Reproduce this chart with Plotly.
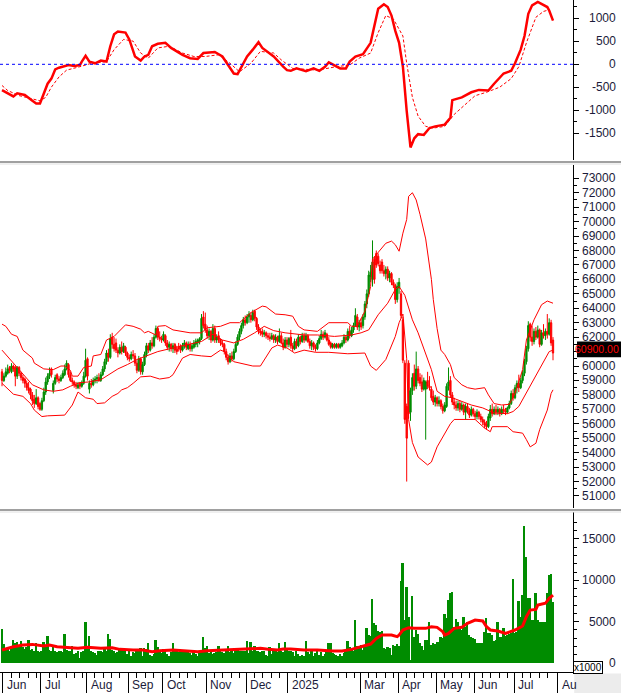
import plotly.graph_objects as go

# ---------------- data (prices in thousand VND, volume in x1000 shares) ----------------
opens = [
    59.6, 59.0, 59.3, 59.5, 59.9, 59.6, 60.0, 59.9, 59.3, 59.9,
    59.5, 59.2, 59.1, 58.8, 58.5, 58.4, 58.0, 57.7, 57.4, 57.8,
    57.4, 57.0, 57.6, 58.2, 58.9, 59.3, 59.8, 58.3, 58.8, 59.4,
    59.1, 59.0, 59.2, 59.4, 59.8, 60.1, 59.4, 59.0, 58.9, 58.7,
    58.5, 58.8, 58.6, 58.8, 59.3, 60.5, 58.4, 58.8, 58.7, 59.0,
    59.1, 59.2, 59.0, 59.4, 59.8, 60.3, 60.9, 60.6, 62.0, 61.5,
    61.6, 61.1, 60.9, 61.3, 61.0, 61.3, 60.9, 60.6, 60.5, 60.8,
    60.7, 60.2, 59.7, 60.5, 59.6, 60.1, 60.8, 61.4, 61.1, 61.6,
    61.4, 62.0, 62.6, 62.0, 61.9, 61.8, 62.1, 61.6, 61.3, 61.5,
    61.2, 61.5, 61.2, 61.3, 61.4, 61.1, 61.4, 61.6, 61.2, 61.5,
    61.2, 61.3, 61.5, 61.6, 61.7, 61.9, 63.4, 62.9, 62.5, 62.1,
    62.4, 61.8, 62.6, 61.8, 62.1, 61.8, 61.6, 61.5, 61.0, 60.6,
    60.3, 60.7, 60.5, 61.0, 61.5, 62.0, 62.4, 62.8, 63.2, 63.0,
    63.4, 63.5, 63.2, 63.8, 63.3, 62.7, 62.4, 62.4, 62.2, 62.3,
    62.1, 62.0, 61.9, 62.1, 61.8, 62.0, 61.7, 62.1, 61.6, 61.3,
    61.8, 61.5, 62.0, 61.4, 61.2, 61.7, 61.4, 62.0, 61.7, 62.1,
    61.8, 62.1, 61.7, 61.4, 61.6, 61.3, 61.2, 61.6, 61.9, 62.2,
    62.0, 62.2, 61.8, 61.6, 61.3, 61.5, 61.3, 61.5, 61.3, 61.4,
    61.6, 62.0, 61.8, 62.4, 62.1, 62.5, 62.8, 63.4, 62.7, 63.0,
    62.8, 63.4, 64.3, 65.0, 66.2, 66.0, 67.4, 67.8, 67.6, 67.0,
    67.2, 66.6, 66.4, 66.7, 66.1, 66.4, 65.8, 65.6, 64.6, 65.4,
    65.0, 63.2, 60.2, 57.2, 60.2, 56.8, 58.3, 59.5, 58.6, 59.8,
    59.2, 58.9, 58.4, 58.4, 59.0, 58.6, 58.4, 57.9, 57.5, 57.8,
    57.4, 57.6, 57.2, 56.9, 57.2, 58.6, 59.0, 58.0, 57.5, 57.3,
    57.1, 57.4, 57.0, 57.3, 56.8, 57.2, 56.9, 56.6, 57.0, 56.7,
    56.5, 56.8, 56.5, 56.3, 56.1, 56.0, 55.8, 56.4, 57.0, 56.7,
    57.0, 56.8, 57.0, 56.7, 57.0, 56.9, 56.8, 57.1, 57.4, 58.1,
    57.8, 58.5, 58.8, 58.5, 59.0, 59.5, 60.3, 61.2, 62.9, 62.0,
    61.7, 62.4, 62.0, 62.5, 61.5, 62.3, 62.1, 62.4, 62.2, 63.0, 61.8,
]
highs = [
    59.8, 59.5, 59.9, 60.1, 60.0, 60.2, 60.1, 60.0, 60.0, 60.0,
    59.6, 59.4, 59.2, 59.0, 58.9, 58.5, 58.2, 58.0, 58.4, 57.9,
    57.5, 57.8, 58.5, 59.2, 59.5, 59.9, 59.9, 59.0, 59.4, 59.5,
    59.3, 59.4, 59.7, 60.1, 60.4, 60.2, 59.6, 59.2, 59.0, 58.9,
    58.9, 58.9, 59.0, 59.6, 61.2, 60.6, 59.0, 59.1, 59.2, 59.3,
    59.4, 59.5, 59.6, 60.0, 60.5, 61.1, 61.2, 62.2, 62.3, 62.0,
    61.9, 61.3, 61.5, 61.7, 61.6, 61.4, 61.0, 60.8, 61.0, 61.1,
    60.9, 60.4, 60.7, 60.6, 60.3, 61.0, 61.6, 61.6, 61.8, 62.0,
    62.2, 62.8, 62.7, 62.4, 62.1, 62.4, 62.2, 61.8, 61.7, 61.6,
    61.6, 61.6, 61.4, 61.6, 61.5, 61.6, 61.8, 61.7, 61.7, 61.7,
    61.6, 61.8, 61.9, 61.9, 62.0, 63.6, 63.8, 63.7, 62.8, 62.6,
    62.5, 62.9, 62.8, 62.2, 62.4, 61.9, 61.8, 61.6, 61.2, 60.8,
    60.9, 61.0, 61.2, 61.7, 62.2, 62.6, 63.0, 63.4, 63.5, 63.6,
    63.8, 63.7, 63.9, 63.9, 63.4, 62.9, 62.6, 62.6, 62.5, 62.4,
    62.3, 62.3, 62.3, 62.2, 62.2, 62.1, 62.6, 62.3, 61.9, 62.0,
    62.0, 62.0, 62.5, 61.6, 61.9, 61.9, 62.2, 62.1, 62.3, 62.3,
    62.3, 62.2, 61.9, 61.8, 61.7, 61.5, 61.8, 62.1, 62.5, 62.4,
    62.5, 62.3, 62.0, 61.7, 61.6, 61.6, 61.6, 61.6, 61.6, 61.8,
    62.2, 62.1, 62.6, 62.8, 62.7, 63.0, 64.0, 63.6, 63.2, 63.3,
    63.6, 64.5, 65.3, 66.6, 67.0, 68.7, 67.6, 68.0, 67.8, 67.3,
    67.4, 67.0, 66.9, 66.9, 66.6, 66.5, 66.0, 65.7, 65.8, 66.1,
    65.2, 63.4, 60.4, 57.4, 60.4, 58.5, 59.5, 60.1, 61.0, 60.0,
    59.5, 59.4, 59.2, 59.0, 59.6, 59.3, 58.6, 58.3, 58.0, 57.9,
    57.9, 57.7, 57.4, 57.5, 58.8, 59.9, 59.3, 58.2, 57.8, 57.6,
    57.6, 57.6, 57.5, 57.4, 57.4, 57.4, 57.1, 57.2, 57.1, 56.9,
    57.0, 56.9, 56.7, 56.5, 56.3, 56.2, 56.7, 57.3, 57.4, 57.2,
    57.3, 57.2, 57.1, 57.2, 57.3, 57.1, 57.2, 57.6, 58.3, 58.4,
    58.7, 59.0, 59.4, 59.2, 59.7, 60.5, 61.4, 63.1, 63.0, 62.8,
    62.6, 62.7, 62.8, 62.6, 62.5, 62.9, 62.6, 63.6, 63.3, 63.2, 62.0,
]
lows = [
    58.6, 58.9, 59.2, 59.4, 59.5, 59.5, 59.6, 58.6, 59.1, 59.3,
    59.0, 58.8, 58.5, 58.3, 58.1, 57.7, 57.3, 57.1, 57.3, 57.0,
    56.9, 56.9, 57.5, 58.0, 58.7, 59.1, 59.2, 58.1, 58.7, 58.9,
    58.8, 58.9, 59.1, 59.3, 59.7, 59.2, 58.9, 58.7, 58.5, 58.4,
    58.4, 58.4, 58.5, 58.7, 59.2, 59.0, 58.1, 58.5, 58.6, 58.8,
    58.8, 58.9, 58.9, 59.3, 59.6, 60.1, 60.3, 60.5, 61.2, 61.0,
    60.9, 60.6, 60.8, 60.8, 60.9, 60.7, 60.4, 60.3, 60.4, 60.5,
    60.0, 59.5, 59.6, 59.4, 59.4, 60.0, 60.6, 60.9, 61.0, 61.2,
    61.3, 61.9, 61.8, 61.7, 61.6, 61.7, 61.4, 61.1, 61.0, 61.0,
    60.9, 60.9, 60.8, 61.0, 60.9, 61.0, 61.2, 61.1, 61.1, 61.0,
    61.0, 61.2, 61.3, 61.3, 61.5, 61.8, 62.6, 62.3, 61.9, 61.8,
    61.6, 61.7, 61.6, 61.6, 61.6, 61.4, 61.3, 60.8, 60.4, 60.1,
    60.2, 60.3, 60.4, 60.9, 61.4, 61.8, 62.2, 62.6, 62.8, 62.9,
    63.0, 63.0, 63.1, 63.1, 62.5, 62.2, 62.1, 62.0, 62.0, 61.9,
    61.8, 61.7, 61.8, 61.6, 61.6, 61.5, 61.6, 61.5, 61.1, 61.2,
    61.3, 61.3, 61.2, 61.0, 61.1, 61.2, 61.3, 61.5, 61.6, 61.6,
    61.7, 61.6, 61.2, 61.1, 61.1, 61.0, 61.1, 61.5, 61.8, 61.8,
    61.9, 61.7, 61.4, 61.2, 61.2, 61.2, 61.2, 61.2, 61.2, 61.3,
    61.5, 61.6, 61.7, 61.9, 62.0, 62.3, 62.7, 62.5, 62.4, 62.5,
    62.6, 63.2, 64.0, 64.8, 65.8, 65.5, 65.7, 66.8, 66.9, 66.4,
    66.4, 66.2, 66.0, 65.9, 65.8, 65.6, 65.4, 64.3, 64.4, 65.0,
    63.3, 60.2, 56.0, 52.0, 56.4, 56.2, 58.0, 58.3, 58.4, 58.8,
    58.6, 58.2, 58.3, 54.9, 58.4, 58.3, 57.6, 57.3, 57.2, 57.2,
    57.2, 57.0, 56.7, 56.8, 57.1, 58.3, 57.8, 57.3, 57.0, 56.9,
    56.9, 56.8, 56.9, 56.6, 56.3, 56.7, 56.4, 56.5, 56.5, 56.3,
    56.3, 56.3, 56.1, 55.9, 55.7, 55.6, 55.7, 56.2, 56.5, 56.6,
    56.6, 56.6, 56.5, 56.6, 56.7, 56.6, 56.7, 57.0, 57.3, 57.6,
    57.7, 58.1, 58.2, 58.4, 58.8, 59.3, 60.1, 61.0, 61.7, 61.4,
    61.5, 61.8, 61.9, 61.3, 61.4, 61.9, 61.8, 61.9, 62.1, 61.4, 60.4,
]
closes = [
    59.0, 59.3, 59.6, 59.8, 59.7, 60.0, 59.8, 59.3, 59.9, 59.5,
    59.2, 59.0, 58.8, 58.5, 58.3, 58.0, 57.6, 57.4, 57.8, 57.2,
    57.0, 57.6, 58.2, 58.9, 59.3, 59.5, 59.4, 58.8, 59.2, 59.1,
    59.0, 59.2, 59.5, 59.8, 60.2, 59.4, 59.0, 58.9, 58.7, 58.6,
    58.7, 58.6, 58.8, 59.3, 60.4, 59.3, 58.8, 58.7, 59.0, 59.1,
    59.2, 59.0, 59.4, 59.8, 60.3, 60.9, 60.6, 61.9, 61.5, 61.2,
    61.1, 60.9, 61.3, 61.0, 61.4, 60.9, 60.6, 60.5, 60.8, 60.7,
    60.2, 59.7, 60.5, 59.6, 60.1, 60.8, 61.4, 61.1, 61.6, 61.4,
    62.0, 62.6, 62.0, 61.9, 61.8, 62.2, 61.6, 61.3, 61.5, 61.2,
    61.4, 61.1, 61.0, 61.2, 61.1, 61.4, 61.6, 61.3, 61.5, 61.2,
    61.4, 61.6, 61.7, 61.8, 61.9, 63.3, 62.8, 62.5, 62.1, 62.4,
    61.8, 62.6, 61.8, 62.0, 61.8, 61.6, 61.5, 61.0, 60.6, 60.3,
    60.7, 60.5, 61.0, 61.5, 62.0, 62.4, 62.8, 63.2, 63.0, 63.4,
    63.6, 63.2, 63.7, 63.3, 62.7, 62.4, 62.3, 62.2, 62.3, 62.1,
    62.0, 61.9, 62.1, 61.8, 62.0, 61.7, 62.1, 61.6, 61.3, 61.8,
    61.5, 61.9, 61.4, 61.2, 61.7, 61.4, 62.0, 61.7, 62.1, 61.8,
    62.1, 61.7, 61.4, 61.6, 61.3, 61.2, 61.6, 61.9, 62.2, 62.0,
    62.3, 61.8, 61.5, 61.3, 61.5, 61.3, 61.5, 61.3, 61.5, 61.6,
    62.0, 61.8, 62.4, 62.1, 62.5, 62.8, 63.5, 62.7, 63.0, 62.7,
    63.4, 64.3, 65.0, 66.3, 66.5, 67.2, 66.0, 67.0, 67.1, 66.6,
    66.6, 66.4, 66.7, 66.1, 66.4, 65.8, 65.6, 64.6, 65.5, 65.8,
    63.5, 60.4, 56.3, 55.0, 56.7, 58.3, 59.2, 58.6, 59.8, 59.0,
    58.8, 58.4, 59.0, 58.9, 58.6, 58.5, 57.8, 57.5, 57.8, 57.4,
    57.6, 57.2, 56.9, 57.3, 58.6, 58.9, 58.0, 57.5, 57.3, 57.1,
    57.4, 57.0, 57.3, 56.8, 57.2, 56.9, 56.6, 57.0, 56.7, 56.5,
    56.8, 56.5, 56.3, 56.1, 55.9, 55.8, 56.5, 57.0, 56.7, 57.0,
    56.8, 57.0, 56.7, 57.0, 56.9, 56.8, 57.1, 57.4, 58.1, 57.8,
    58.5, 58.8, 58.5, 59.0, 59.5, 60.3, 61.2, 62.8, 62.0, 61.7,
    62.4, 62.0, 62.5, 61.5, 62.3, 62.1, 62.4, 62.2, 63.0, 61.6, 60.9,
]
volumes = [
    4100, 2300, 1600, 1800, 1400, 1900, 2800, 2400, 2500, 2100,
    2700, 1900, 1700, 1900, 2800, 1600, 1700, 1400, 2400, 1500,
    1300, 1400, 2600, 2000, 3300, 1600, 1400, 1900, 1500, 1300,
    1400, 1500, 1300, 3500, 1600, 1400, 1500, 2000, 1100, 1200,
    1400, 600, 1300, 1500, 4960, 1700, 3300, 1400, 1300, 1200,
    1000, 1400, 1500, 1300, 1700, 1500, 3500, 2900, 1600, 1400,
    1200, 1300, 1800, 1700, 1500, 1400, 1100, 1400, 900, 1300,
    1200, 1700, 1600, 1800, 800, 1800, 1700, 2400, 1000, 900,
    1100, 2800, 1900, 1400, 1200, 1700, 1500, 1100, 900, 1300,
    2400, 1400, 1500, 1300, 1400, 1500, 1300, 1400, 1500, 1200,
    1000, 1300, 1100, 900, 1400, 1500, 3100, 1800, 2100, 1200,
    1300, 1100, 1200, 1300, 2100, 1400, 1300, 1200, 1500, 2100,
    1300, 1400, 1200, 1600, 1700, 1500, 1400, 1500, 1400, 2700,
    1200, 2500, 1400, 2100, 1500, 1400, 1300, 1500, 1400, 1000,
    800, 1900, 1100, 1400, 1500, 1300, 2400, 1400, 1300, 2600,
    1600, 1500, 1400, 1300, 900, 1500, 1100, 900, 1000, 800,
    2660, 1300, 1100, 1600, 900, 1200, 1500, 1000, 1300, 900,
    1100, 1300, 2450, 2450, 1200, 1100, 1000, 900, 1100, 900,
    1200, 1600, 2660, 1900, 1700, 1500, 5200, 2100, 1800, 2200,
    1600, 2000, 4190, 3380, 3300, 7740, 4800, 4600, 3870, 3700,
    3900, 1850, 1700, 1900, 1800, 1000, 2200, 2000, 2300, 2100,
    9920, 12130, 5200, 9230, 5600, 360, 8140, 3180, 3980, 3500,
    2380, 2000, 1600, 2780, 2800, 5000, 2200, 2400, 2300, 2600,
    2500, 3180, 3000, 5890, 5500, 7620, 8420, 8600, 4390, 5320,
    4900, 4190, 4000, 5600, 4300, 5000, 3380, 3100, 2980, 2900,
    2450, 2400, 2450, 2400, 3800, 5480, 3600, 3580, 3400, 2700,
    2800, 5000, 3200, 3100, 4190, 3300, 3400, 3500, 3600, 10160,
    3580, 3800, 7540, 5600, 8220, 16560, 12780, 7820, 7820, 5200,
    5200, 8420, 5200, 5000, 5000, 5000, 5000, 8420, 10640, 10760, 7420,
]

# indicator lines as (trading-day, value) vertices
bb_upper = [(0, 62.9), (2, 62.75), (5, 62.2), (8, 62.05), (11, 61.1), (16, 60.55), (17, 60.2),
            (22, 59.8), (27, 59.75), (31, 60.0), (33, 60.0), (36, 59.7), (37, 59.3), (40, 59.3),
            (43, 59.9), (47, 60.0), (48, 60.7), (52, 60.8), (55, 61.8), (59, 62.05), (65, 62.85),
            (69, 62.75), (73, 62.55), (75, 62.3), (77, 62.4), (81, 62.15), (82, 62.75), (86, 62.8),
            (90, 62.5), (94, 62.4), (99, 62.3), (105, 62.3), (108, 62.65), (115, 62.75), (120, 63.0),
            (125, 63.0), (131, 63.7), (137, 64.15), (139, 64.1), (144, 63.6), (149, 63.55),
            (153, 63.45), (156, 62.75), (159, 62.5), (166, 62.4), (172, 63.0), (182, 63.0),
            (184, 62.75), (187, 62.75), (191, 63.8), (194, 65.5), (195, 67.4), (199, 68.05),
            (202, 68.5), (205, 68.65), (207, 68.4), (209, 67.95), (211, 69.2), (213, 70.15),
            (214, 71.75), (216, 72.0), (218, 71.5), (220, 70.5), (223, 68.8), (226, 66.0),
            (227, 64.6), (229, 62.6), (231, 61.1), (233, 60.8), (236, 60.1), (238, 59.2),
            (242, 58.7), (245, 58.5), (249, 58.4), (254, 58.5), (256, 58.0), (259, 57.4),
            (263, 57.3), (267, 57.35), (270, 58.1), (274, 59.75), (276, 61.8), (280, 63.2),
            (284, 64.25), (287, 64.5), (290, 64.35)]
bb_middle = [(0, 61.1), (3, 60.65), (7, 60.1), (11, 59.5), (16, 58.7), (22, 58.35), (27, 58.25),
             (32, 58.35), (36, 58.6), (41, 58.85), (46, 58.9), (52, 59.05), (57, 59.5), (61, 59.8),
             (66, 60.1), (71, 60.45), (75, 60.65), (82, 61.0), (90, 61.25), (99, 61.55), (105, 61.7),
             (111, 62.2), (116, 61.8), (122, 61.6), (127, 61.85), (133, 62.3), (138, 62.75),
             (143, 62.45), (149, 62.3), (159, 62.15), (166, 62.15), (175, 62.05), (184, 62.15),
             (189, 62.3), (193, 62.5), (198, 63.55), (203, 64.35), (207, 65.3), (209, 65.5),
             (212, 64.9), (216, 63.2), (219, 62.3), (223, 60.9), (226, 59.75), (229, 58.25),
             (233, 57.9), (237, 57.8), (242, 57.55), (247, 57.3), (253, 57.1), (257, 56.85),
             (259, 56.75), (266, 56.7), (269, 56.85), (272, 57.2), (275, 57.9), (279, 58.8),
             (282, 59.5), (286, 60.45), (288, 61.0), (290, 61.1)]
bb_lower = [(0, 58.8), (3, 58.45), (6, 58.05), (11, 57.9), (15, 57.4), (17, 56.95), (21, 56.5),
            (24, 56.55), (33, 56.6), (37, 57.3), (40, 58.2), (44, 57.8), (48, 57.7), (50, 57.4),
            (54, 57.45), (58, 57.9), (61, 58.1), (63, 58.35), (66, 58.5), (69, 58.8), (73, 59.25),
            (78, 59.3), (83, 59.1), (88, 59.2), (90, 59.4), (95, 60.55), (99, 60.8), (105, 60.7),
            (110, 60.65), (115, 61.1), (117, 61.0), (122, 60.3), (125, 60.2), (132, 60.0),
            (136, 60.0), (138, 60.45), (142, 61.25), (145, 61.45), (150, 61.25), (154, 60.9),
            (159, 61.1), (165, 60.95), (172, 60.95), (182, 60.85), (191, 60.9), (194, 60.0),
            (197, 59.7), (202, 60.45), (207, 62.05), (209, 63.0), (211, 63.6), (213, 60.5),
            (214, 56.3), (216, 54.7), (219, 53.7), (224, 53.15), (226, 53.35), (229, 54.4),
            (233, 55.35), (236, 56.0), (238, 56.3), (242, 56.3), (249, 56.3), (254, 55.7),
            (257, 55.45), (258, 55.8), (266, 55.8), (269, 55.45), (274, 55.35), (276, 54.9),
            (278, 54.4), (281, 54.65), (283, 55.6), (287, 56.95), (289, 58.1), (290, 58.35)]
macd_line = [(0, -560), (4, -660), (6, -697), (8, -630), (12, -667), (16, -793), (18, -852),
             (20, -852), (22, -645), (24, -422), (26, -311), (28, -111), (30, -74), (32, -52),
             (35, -15), (38, -37), (41, -15), (42, 59), (44, 185), (46, 59), (49, 22), (52, 82),
             (55, 59), (57, 393), (59, 652), (61, 711), (65, 689), (67, 541), (70, 170), (73, 82),
             (75, 170), (77, 207), (79, 393), (82, 445), (86, 467), (89, 356), (95, 207), (99, 133),
             (103, 118), (106, 245), (112, 267), (116, 170), (119, -15), (122, -200), (124, -215),
             (126, -52), (129, 170), (132, 319), (135, 482), (137, 356), (143, 170), (148, -52),
             (150, -126), (152, -141), (155, -89), (160, -148), (164, -89), (167, -141), (170, -52),
             (172, 44), (175, -15), (178, -89), (181, -89), (183, 59), (186, 170), (190, 222),
             (194, 467), (196, 874), (198, 1208), (201, 1304), (203, 1245), (205, 1060), (207, 726),
             (209, 467), (211, -52), (213, -1015), (215, -1808), (217, -1608), (219, -1519),
             (222, -1534), (225, -1386), (228, -1349), (233, -1312), (236, -1163), (237, -778),
             (242, -719), (247, -608), (251, -556), (256, -571), (259, -422), (264, -200),
             (268, -141), (270, 22), (273, 319), (275, 615), (277, 1097), (279, 1282), (282, 1356),
             (285, 1282), (287, 1245), (288, 1171), (290, 949)]
macd_signal = [(0, -460), (3, -570), (9, -680), (16, -756), (20, -793), (23, -719), (26, -496),
               (30, -274), (34, -126), (41, -52), (47, 22), (55, 59), (59, 319), (64, 541),
               (69, 504), (73, 245), (77, 133), (82, 356), (88, 393), (95, 245), (101, 170),
               (107, 170), (114, 207), (120, 22), (125, -163), (131, 22), (136, 282), (143, 245),
               (147, 96), (153, -89), (166, -126), (176, -52), (183, -15), (188, 133), (194, 245),
               (198, 689), (202, 1060), (206, 985), (211, 615), (213, 22), (216, -719),
               (219, -1126), (223, -1349), (227, -1386), (233, -1349), (238, -1089), (244, -867),
               (249, -682), (255, -608), (262, -496), (268, -311), (272, -52), (276, 467),
               (281, 1023), (285, 1149), (288, 1186)]
volume_ma = [(0, 1570), (3, 1770), (6, 1970), (11, 2170), (16, 2250), (22, 2050), (25, 2170),
             (29, 1970), (34, 1890), (40, 1770), (45, 1890), (52, 1770), (58, 1850), (62, 1650),
             (69, 1570), (74, 1570), (79, 1370), (83, 1490), (90, 1570), (97, 1490), (103, 1370),
             (108, 1490), (115, 1570), (122, 1690), (129, 1770), (136, 1770), (140, 1650),
             (145, 1570), (148, 1690), (152, 1690), (159, 1570), (166, 1570), (174, 1450),
             (179, 1450), (184, 1650), (189, 1970), (194, 2290), (197, 2980), (200, 3380),
             (205, 3380), (208, 3180), (209, 3380), (211, 3990), (214, 4270), (217, 4190),
             (223, 4190), (226, 4390), (229, 4310), (232, 3790), (233, 3380), (235, 3580),
             (238, 4190), (242, 4310), (245, 4800), (249, 5200), (253, 5080), (255, 4390),
             (257, 3990), (261, 3870), (265, 3580), (270, 3990), (274, 4470), (276, 5600),
             (278, 6400), (281, 6480), (282, 7000), (286, 7220), (288, 7820), (290, 8220)]

month_tick_day = [0.5, 20.5, 44.5, 66.5, 84.5, 107.5, 128.5, 150.5, 188.5, 208.5, 228.5, 248.5, 269.5, 292.5]
month_tick_label = ["Jun", "Jul", "Aug", "Sep", "Oct", "Nov", "Dec", "2025", "Mar", "Apr", "May", "Jun", "Jul", "Au"]
macd_ticks = [1000, 500, 0, -500, -1000, -1500]
price_ticks = list(range(51000, 73001, 1000))
volume_ticks = [0, 5000, 10000, 15000]
last_price = 60900

# ---------------- styling / layout ----------------
W, H = 621, 693
AX_X = 573            # right axis position (px)
X_PER_DAY = 1.9
X_OFF = 2
GREEN = "#008c00"
RED = "#ff0000"
LBL = "#1b1b3a"
FONT = "Liberation Sans, Arial, sans-serif"
K = 1000


def py(px):
    return 1 - px / H


days = list(range(len(closes)))
x_range = [-X_OFF / X_PER_DAY, (AX_X - X_OFF) / X_PER_DAY]

minor_days = []
for a, b in zip(month_tick_day[:-1], month_tick_day[1:]):
    d = a + 4.4
    while d < b - 2:
        minor_days.append(d)
        d += 4.4

fig = go.Figure()

# MACD panel
fig.add_trace(go.Scatter(x=[p[0] for p in macd_signal], y=[p[1] for p in macd_signal], mode="lines",
                         line=dict(color=RED, width=1, dash="3px,2px"), xaxis="x", yaxis="y"))
fig.add_trace(go.Scatter(x=[p[0] for p in macd_line], y=[p[1] for p in macd_line], mode="lines",
                         line=dict(color=RED, width=2.5), xaxis="x", yaxis="y"))

# price panel
for band in (bb_upper, bb_middle, bb_lower):
    fig.add_trace(go.Scatter(x=[p[0] for p in band], y=[p[1] * K for p in band], mode="lines",
                             line=dict(color=RED, width=1), xaxis="x", yaxis="y2"))
fig.add_trace(go.Candlestick(
    x=days, open=[v * K for v in opens], high=[v * K for v in highs],
    low=[v * K for v in lows], close=[v * K for v in closes],
    increasing=dict(line=dict(color=GREEN, width=1), fillcolor=GREEN),
    decreasing=dict(line=dict(color=RED, width=1), fillcolor=RED),
    whiskerwidth=0, xaxis="x", yaxis="y2", hoverinfo="skip"))

# volume panel
fig.add_trace(go.Bar(x=days, y=volumes, marker=dict(color=GREEN, line=dict(width=0)),
                     xaxis="x", yaxis="y3"))
fig.add_trace(go.Scatter(x=[p[0] for p in volume_ma], y=[p[1] for p in volume_ma], mode="lines",
                         line=dict(color=RED, width=3), xaxis="x", yaxis="y3"))

yax_common = dict(anchor="x", side="right", showgrid=False, zeroline=False, showline=True,
                  linecolor="black", linewidth=1, ticks="outside", ticklen=5, tickcolor="black",
                  showticklabels=False)

macd_minor = [v + 250 for v in macd_ticks if v + 250 <= 1250]
price_minor = [v + 500 for v in price_ticks[:-1]]
vol_minor = [v for v in range(1000, 18000, 1000) if v % 5000]

fig.update_layout(
    width=W, height=H, margin=dict(l=0, r=0, t=0, b=0),
    paper_bgcolor="white", plot_bgcolor="white", showlegend=False,
    bargap=0, boxgap=0.02,
    xaxis=dict(domain=[0, AX_X / W], range=x_range, anchor="y3", showgrid=False, zeroline=False,
               showline=True, linecolor="black", linewidth=1, ticks="outside", ticklen=21,
               tickcolor="black", tickmode="array", tickvals=month_tick_day, showticklabels=False,
               minor=dict(tickmode="array", tickvals=minor_days, ticks="outside", ticklen=5,
                          tickcolor="black"),
               rangeslider=dict(visible=False)),
    yaxis=dict(domain=[py(160), 1], range=[-2080, 1398], tickmode="array", tickvals=macd_ticks,
               minor=dict(tickmode="array", tickvals=macd_minor, ticks="outside", ticklen=3,
                          tickcolor="black"), **yax_common),
    yaxis2=dict(domain=[py(508), py(165)], range=[50168, 73921], tickmode="array", tickvals=price_ticks,
                minor=dict(tickmode="array", tickvals=price_minor, ticks="outside", ticklen=3,
                           tickcolor="black"), **yax_common),
    yaxis3=dict(domain=[py(672), py(512)], range=[-1088, 18259], tickmode="array", tickvals=volume_ticks,
                minor=dict(tickmode="array", tickvals=vol_minor, ticks="outside", ticklen=3,
                           tickcolor="black"), **yax_common),
)

shapes = [
    dict(type="line", xref="paper", yref="y", x0=0, x1=AX_X / W, y0=0, y1=0,
         line=dict(color="#0000ff", width=1, dash="3px,3px")),
    dict(type="line", xref="paper", yref="paper", x0=0, x1=1, y0=py(162), y1=py(162),
         line=dict(color="#a0a0a0", width=2)),
    dict(type="line", xref="paper", yref="paper", x0=0, x1=1, y0=py(164), y1=py(164),
         line=dict(color="#e0e0e0", width=1)),
    dict(type="line", xref="paper", yref="paper", x0=0, x1=1, y0=py(510), y1=py(510),
         line=dict(color="#a0a0a0", width=2)),
    dict(type="line", xref="paper", yref="paper", x0=0, x1=1, y0=py(512), y1=py(512),
         line=dict(color="#e0e0e0", width=1)),
    dict(type="rect", xref="paper", yref="paper", x0=AX_X / W + 0.002, x1=1, y0=0, y1=py(673.5),
         fillcolor="#ececec", line=dict(width=0)),
    # black last-price box behind the red price text
    dict(type="rect", xref="paper", yref="y2", x0=577 / W, x1=1,
         y0=last_price - 300, y1=last_price + 800, fillcolor="black", line=dict(width=0)),
]
fig.update_layout(shapes=shapes)

ann = []
lab_font = dict(family=FONT, size=12, color=LBL)
for t in macd_ticks:
    ann.append(dict(x=618 / W, xref="paper", xanchor="right", y=t, yref="y", yanchor="middle",
                    text=str(t), showarrow=False, font=lab_font))
for t in price_ticks:
    if abs(t - last_price) < 600:
        continue  # hidden behind the last-price box, as in the reference
    ann.append(dict(x=618 / W, xref="paper", xanchor="right", y=t, yref="y2", yanchor="middle",
                    text=str(t), showarrow=False, font=lab_font))
for t in volume_ticks:
    ann.append(dict(x=618 / W, xref="paper", xanchor="right", y=t, yref="y3", yanchor="middle",
                    text=str(t), showarrow=False, font=lab_font))
for d, lab in zip(month_tick_day, month_tick_label):
    ann.append(dict(x=d, xref="x", xanchor="left", xshift=2, y=py(685), yref="paper", yanchor="middle",
                    text=lab, showarrow=False, font=dict(family=FONT, size=12, color=LBL)))
ann.append(dict(x=620 / W, xref="paper", xanchor="right", y=last_price + 250, yref="y2", yanchor="middle",
                text=f"{last_price:.2f}", showarrow=False,
                font=dict(family=FONT, size=10.5, color=RED), borderpad=0))
ann.append(dict(x=588 / W, xref="paper", xanchor="center", y=py(667.5), yref="paper", yanchor="middle",
                text="x1000", showarrow=False, bgcolor="white", bordercolor="black", borderwidth=1,
                borderpad=0, font=dict(family=FONT, size=10, color="black")))
fig.update_layout(annotations=ann)

fig.write_html("out.html", config={"displayModeBar": False},
               post_script="document.body.style.margin='0';document.body.style.padding='0';")
